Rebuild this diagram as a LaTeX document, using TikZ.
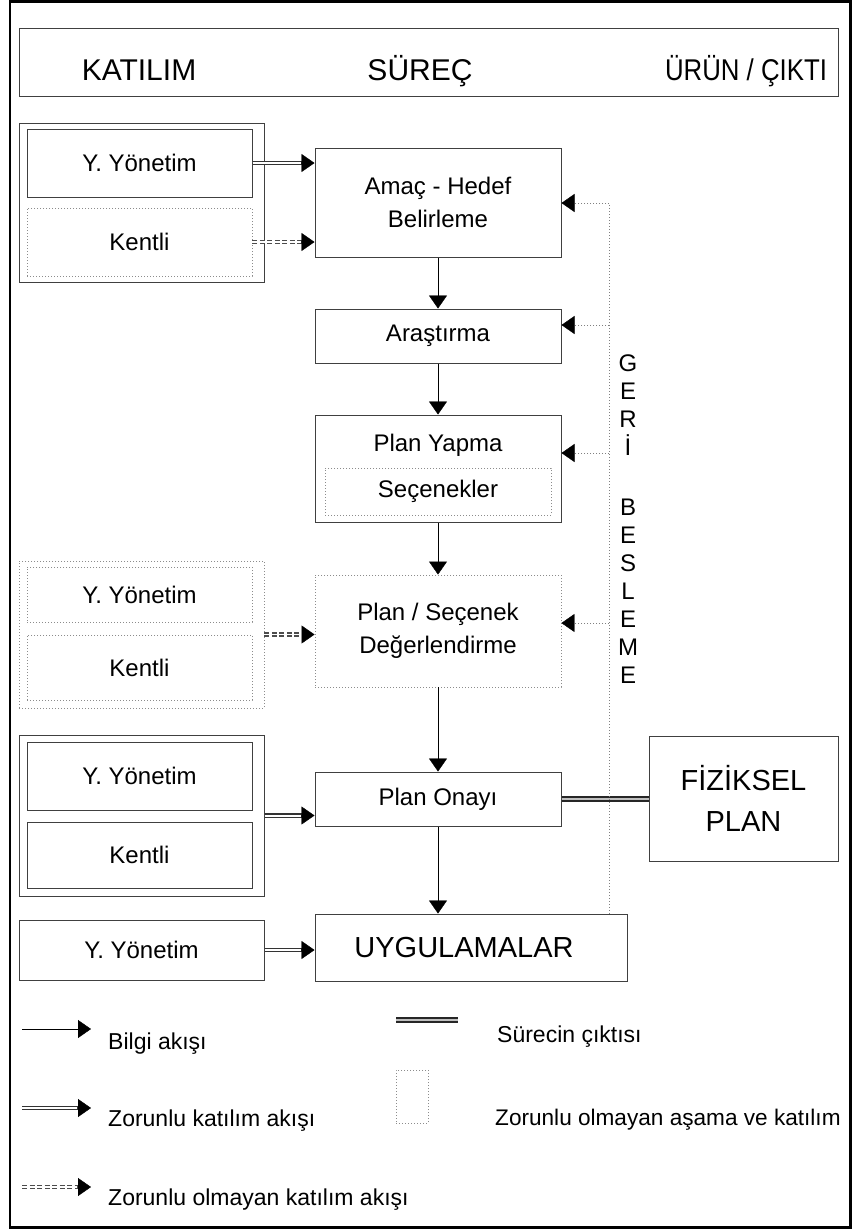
\documentclass[tikz,border=0pt]{standalone}
\usepackage{fontspec}
\setmainfont{Liberation Sans}
\usetikzlibrary{arrows.meta}

\begin{document}
\begin{tikzpicture}[x=1pt,y=-1pt,
  every node/.style={inner sep=0pt, font=\fontsize{24}{33}\selectfont},
  sz/.style 2 args={minimum width=#1pt, minimum height=#2pt},
  solidbox/.style={draw=black!75, line width=1pt},
  dotbox/.style={draw=black!45, line width=0.9pt, dash pattern=on 1pt off 2pt},
  arrhead/.style={-{Triangle[length=13pt,width=18pt,line width=0.4pt,color=black]}},
  flowline/.style={draw=black, line width=1pt, arrhead},
  mustline/.style={draw=black!80, line width=4.4pt, arrhead,
    postaction={draw=white, line width=2pt, -, shorten >=14pt}},
  optline/.style={draw=black!70, line width=4.2pt, dash pattern=on 5pt off 2.5pt, arrhead,
    postaction={draw=white, solid, line width=1.6pt, -, shorten >=14pt}},
  outputline/.style={draw=black!85, line width=6pt,
    postaction={draw=black!25, line width=2pt}},
  fbline/.style={draw=black!50, line width=0.9pt, dash pattern=on 1pt off 2pt},
  fbarrow/.style={fbline, arrhead},
  hdrtext/.style={anchor=base, font=\fontsize{30}{34}\selectfont},
  bigtext/.style={font=\fontsize{29}{41}\selectfont},
  legtext/.style={anchor=west, font=\fontsize{23}{28}\selectfont}
]
\useasboundingbox (0,0) rectangle (852,1229);

% outer frame
\draw[line width=2.4pt] (10,1.3) rectangle (850.5,1227.5);

% header band
\node[solidbox, sz={819}{68}] (hdr) at (428.5,62) {};
\node[hdrtext] (hKat) at (139,80) {KATILIM};
\node[hdrtext] (hSur) at (420,80) {SÜREÇ};
\node[hdrtext] (hUrun) at (746,80) {\scalebox{0.86}[1]{ÜRÜN / ÇIKTI}};

% participation group 1
\node[solidbox, sz={245}{159}] (g1) at (141.5,202.5) {};
\node[solidbox, sz={225}{68}] (g1y) at (139.5,163) {Y. Yönetim};
\node[dotbox, sz={225}{68}] (g1k) at (139.5,242) {Kentli};

% process column
\node[solidbox, sz={246}{109}, align=center] (amac) at (438,202.5) {Amaç - Hedef\\Belirleme};
\node[solidbox, sz={246}{54}] (arastirma) at (438,336) {Araştırma};
\node[solidbox, sz={246}{107}] (planyapma) at (438,468.5) {};
\node (pyTitle) at (438,445) {Plan Yapma};
\node[dotbox, sz={226}{47}] (secenek) at (438,491.5) {Seçenekler};
\node[dotbox, sz={246}{112}, align=center] (degerl) at (438,631) {Plan / Seçenek\\Değerlendirme};
\node[solidbox, sz={246}{54}] (onay) at (438,799) {Plan Onayı};
\node[solidbox, sz={312}{67}, font=\fontsize{29}{34}\selectfont] (uyg) at (471,947.5)
  {\hspace*{-14pt}\raisebox{-3pt}{UYGULAMALAR}};

% participation group 2 (optional)
\node[dotbox, sz={245}{147}] (g2) at (141.5,634.5) {};
\node[dotbox, sz={225}{55}] (g2y) at (139.5,594.5) {Y. Yönetim};
\node[dotbox, sz={225}{65}] (g2k) at (139.5,667.5) {Kentli};

% participation group 3
\node[solidbox, sz={245}{161}] (g3) at (141.5,815.5) {};
\node[solidbox, sz={225}{68}] (g3y) at (139.5,776) {Y. Yönetim};
\node[solidbox, sz={225}{66}] (g3k) at (139.5,855) {Kentli};

% participation for implementation
\node[solidbox, sz={245}{60}] (g4y) at (141.5,950) {Y. Yönetim};

% product
\node[solidbox, sz={189}{125}, bigtext, align=center] (fiz) at (743.5,798.5) {FİZİKSEL\\PLAN};

% participation flows
\draw[mustline] (g1y.east) -- (g1y.east -| amac.west);
\draw[optline] (g1k.east) -- (g1k.east -| amac.west);
\draw[optline] (g2.east) -- (g2.east -| degerl.west);
\draw[mustline] (g3.east) -- (g3.east -| onay.west);
\draw[mustline] (g4y.east) -- (g4y.east -| uyg.west);

% information flow down the process
\draw[flowline] (amac.south) -- (arastirma.north);
\draw[flowline] (arastirma.south) -- (planyapma.north);
\draw[flowline] (planyapma.south) -- (degerl.north);
\draw[flowline] (degerl.south) -- (onay.north);
\draw[flowline] (onay.south) -- (onay.south |- uyg.north);

% output of the process
\draw[outputline] (onay.east) -- (fiz.west |- onay.east);

% feedback loop
\coordinate (fb1) at (609,203);
\coordinate (fb2) at (609,325);
\coordinate (fb3) at (609,453);
\coordinate (fb4) at (609,623);
\draw[fbline] (uyg.north -| fb1) -- (fb1);
\draw[fbarrow] (fb1) -- (fb1 -| amac.east);
\draw[fbarrow] (fb2) -- (fb2 -| arastirma.east);
\draw[fbarrow] (fb3) -- (fb3 -| planyapma.east);
\draw[fbarrow] (fb4) -- (fb4 -| degerl.east);
\node[anchor=north, align=center, font=\fontsize{24}{28}\selectfont] (geri) at (628,354.5)
  {G\\E\\R\\İ\\[32pt]B\\E\\S\\L\\E\\M\\E};

% legend
\coordinate (l1a) at (22,1029);  \coordinate (l1b) at (91,1029);
\coordinate (l2a) at (22,1108);  \coordinate (l2b) at (91,1108);
\coordinate (l3a) at (22,1187);  \coordinate (l3b) at (91,1187);
\coordinate (l4a) at (396,1020); \coordinate (l4b) at (458,1020);
\draw[flowline] (l1a) -- (l1b);
\draw[mustline] (l2a) -- (l2b);
\draw[optline] (l3a) -- (l3b);
\draw[outputline] (l4a) -- (l4b);
\node[dotbox, sz={32}{53}] (l5) at (412,1096.5) {};
\node[legtext] (t1) at (108,1044) {Bilgi akışı};
\node[legtext] (t2) at (108,1121) {Zorunlu katılım akışı};
\node[legtext] (t3) at (108,1200) {Zorunlu olmayan katılım akışı};
\node[legtext] (t4) at (497,1037) {Sürecin çıktısı};
\node[legtext, font=\fontsize{22.6}{28}\selectfont] (t5) at (495,1120) {Zorunlu olmayan aşama ve katılım};
\end{tikzpicture}
\end{document}
